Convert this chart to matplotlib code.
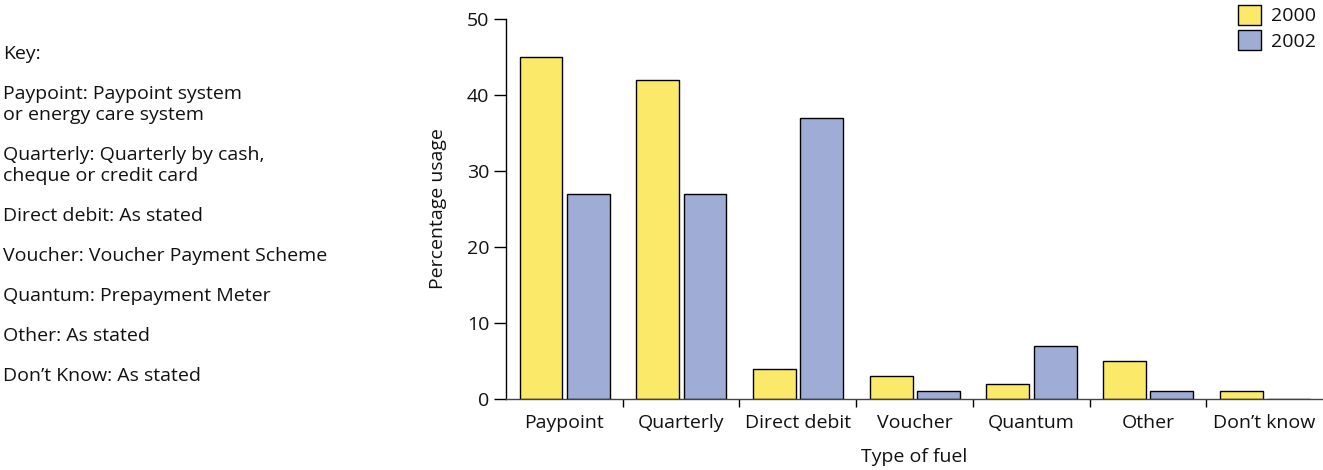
import matplotlib

matplotlib.use("Agg")
from matplotlib import pyplot as plt
from matplotlib.patches import Patch
import numpy as np

# * DATA

categories = [
    "Paypoint",
    "Quarterly",
    "Direct debit",
    "Voucher",
    "Quantum",
    "Other",
    "Don\u2019t know",
]
usage_2000 = [45, 42, 4, 3, 2, 5, 1]
usage_2002 = [27, 27, 37, 1, 7, 1, 0]
series_labels = ["2000", "2002"]

key_lines = [
    ["Key:"],
    ["Paypoint: Paypoint system", "or energy care system"],
    ["Quarterly: Quarterly by cash,", "cheque or credit card"],
    ["Direct debit: As stated"],
    ["Voucher: Voucher Payment Scheme"],
    ["Quantum: Prepayment Meter"],
    ["Other: As stated"],
    ["Don\u2019t Know: As stated"],
]

# * STYLE

plt.rcParams["font.family"] = ["Open Sans", "DejaVu Sans"]
plt.rcParams["font.size"] = 14
text_color = "#111111"
yellow = "#fbea6a"
blue = "#9fadd6"

W, H = 1323, 470
fig = plt.figure(figsize=(W / 100, H / 100), dpi=100)
ax = fig.add_axes([506 / W, 1 - 399 / H, (1323 - 506) / W, (399 - 19) / H])

x = np.arange(len(categories))
bar_w = 0.367
ax.bar(x + 0.30, usage_2000, bar_w, color=yellow, edgecolor="black", linewidth=1)
ax.bar(x + 0.705, usage_2002, bar_w, color=blue, edgecolor="black", linewidth=1)

ax.set_xlim(0, len(categories))
ax.set_ylim(0, 50)

# Category labels at the centres, tick marks at the boundaries
ax.set_xticks(x + 0.5)
ax.set_xticklabels(categories, color=text_color)
ax.tick_params(axis="x", which="major", length=0, pad=11)
ax.set_xticks(x[1:], minor=True)
ax.tick_params(axis="x", which="minor", length=6, width=1, direction="out")

ax.set_yticks(np.arange(0, 51, 10))
ax.tick_params(axis="y", length=9, width=1, direction="out", pad=3, labelcolor=text_color)

for side in ("top", "right"):
    ax.spines[side].set_visible(False)
ax.spines["left"].set_linewidth(1)
ax.spines["bottom"].set_linewidth(1)
ax.spines["bottom"].set_color("#444444")

ax.set_xlabel("Type of fuel", color=text_color, labelpad=11)
ax.set_ylabel("Percentage usage", color=text_color, labelpad=14)

handles = [
    Patch(facecolor=yellow, edgecolor="black", linewidth=1),
    Patch(facecolor=blue, edgecolor="black", linewidth=1),
]
fig.legend(
    handles,
    series_labels,
    loc="upper left",
    bbox_to_anchor=(1238 / W, 1 - 5 / H),
    frameon=False,
    borderpad=0,
    borderaxespad=0,
    handlelength=1.18,
    handleheight=1.18,
    handletextpad=0.5,
    labelspacing=0.25,
    labelcolor=text_color,
)

# Key text down the left-hand side
y = 59
for item in key_lines:
    for line in item:
        fig.text(3 / W, 1 - y / H, line, ha="left", va="baseline", color=text_color)
        y += 21
    y += 19

fig.savefig("out.png", dpi=100)
